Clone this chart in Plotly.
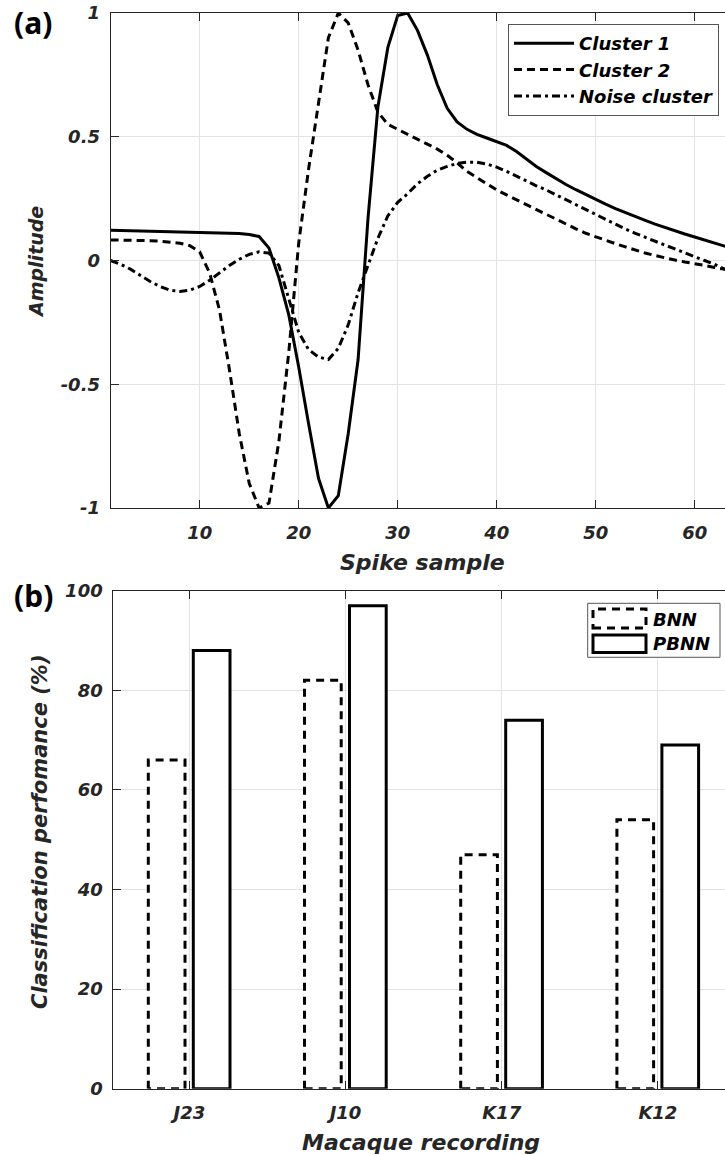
import plotly.graph_objects as go

# ---------------- data ----------------
samples = list(range(1, 65))
cluster1 = [0.122, 0.121, 0.121, 0.120, 0.120, 0.119, 0.118, 0.117, 0.116, 0.115,
            0.114, 0.113, 0.111, 0.109, 0.105, 0.097, 0.050, -0.070, -0.22, -0.43,
            -0.66, -0.88, -1.0, -0.95, -0.70, -0.40, 0.17, 0.62, 0.86, 0.99,
            1.0, 0.93, 0.83, 0.71, 0.615, 0.56, 0.53, 0.51, 0.495, 0.48,
            0.465, 0.44, 0.41, 0.38, 0.355, 0.33, 0.307, 0.286, 0.266, 0.247,
            0.228, 0.21, 0.193, 0.177, 0.162, 0.147, 0.133, 0.12, 0.107, 0.095,
            0.083, 0.071, 0.058, 0.046]
cluster2 = [0.083, 0.083, 0.082, 0.081, 0.080, 0.078, 0.075, 0.070, 0.060, 0.035,
            -0.05, -0.20, -0.44, -0.70, -0.90, -1.0, -0.98, -0.73, -0.37, 0.07,
            0.37, 0.64, 0.90, 1.0, 0.96, 0.85, 0.71, 0.60, 0.55, 0.53,
            0.51, 0.49, 0.47, 0.45, 0.425, 0.395, 0.36, 0.335, 0.31, 0.285,
            0.265, 0.245, 0.225, 0.205, 0.185, 0.165, 0.145, 0.128, 0.11, 0.095,
            0.08, 0.068, 0.055, 0.042, 0.03, 0.02, 0.01, 0.002, -0.006, -0.012,
            -0.02, -0.028, -0.036, -0.042]
noise = [0.0, -0.015, -0.035, -0.06, -0.085, -0.105, -0.12, -0.125, -0.12, -0.105,
         -0.08, -0.05, -0.02, 0.005, 0.025, 0.035, 0.03, -0.02, -0.15, -0.29,
         -0.36, -0.39, -0.40, -0.355, -0.26, -0.13, -0.02, 0.09, 0.18, 0.235,
         0.27, 0.31, 0.34, 0.365, 0.38, 0.392, 0.397, 0.397, 0.39, 0.377,
         0.36, 0.34, 0.32, 0.302, 0.285, 0.265, 0.245, 0.225, 0.205, 0.185,
         0.165, 0.145, 0.127, 0.11, 0.093, 0.077, 0.062, 0.047, 0.03, 0.015,
         0.0, -0.015, -0.035, -0.045]

recordings = ["J23", "J10", "K17", "K12"]
bnn = [66, 82, 47, 54]
pbnn = [88, 97, 74, 69]

amp_ticks = [-1, -0.5, 0, 0.5, 1]
amp_ticktext = ["-1", "-0.5", "0", "0.5", "1"]
sample_ticks = [10, 20, 30, 40, 50, 60]
perf_ticks = [0, 20, 40, 60, 80, 100]

# ---------------- styling ----------------
W, H = 725, 1155
FONT = "DejaVu Sans"
DARK = "#262626"
GRID = "#e3e3e3"
bar_w = 0.235
off_bnn = -0.2625
off_pbnn = 0.0256

def px(x):
    return x / W

def py(y):
    return 1 - y / H

fig = go.Figure()

# ---- panel (a) ----
fig.add_trace(go.Scatter(x=samples, y=cluster1, mode="lines", name="Cluster 1",
                         line=dict(color="black", width=3), xaxis="x", yaxis="y"))
fig.add_trace(go.Scatter(x=samples, y=cluster2, mode="lines", name="Cluster 2",
                         line=dict(color="black", width=3, dash="8px,5px"), xaxis="x", yaxis="y"))
fig.add_trace(go.Scatter(x=samples, y=noise, mode="lines", name="Noise cluster",
                         line=dict(color="black", width=3, dash="8px,4px,3px,4px"), xaxis="x", yaxis="y"))

# ---- panel (b) ----
pos = list(range(1, len(recordings) + 1))
fig.add_trace(go.Bar(x=pos, y=bnn, width=bar_w, offset=off_bnn, name="BNN",
                     marker=dict(color="white", line=dict(width=0)),
                     showlegend=False, xaxis="x2", yaxis="y2"))
outline_x, outline_y = [], []
for p, v in zip(pos, bnn):
    x0 = p + off_bnn
    x1 = x0 + bar_w
    outline_x += [x0, x0, x1, x1, x0, None]
    outline_y += [0, v, v, 0, 0, None]
fig.add_trace(go.Scatter(x=outline_x, y=outline_y, mode="lines", name="BNN",
                         line=dict(color="black", width=3, dash="8px,6px"),
                         showlegend=False, xaxis="x2", yaxis="y2"))
fig.add_trace(go.Bar(x=pos, y=pbnn, width=bar_w, offset=off_pbnn, name="PBNN",
                     marker=dict(color="white", line=dict(color="black", width=3)),
                     showlegend=False, xaxis="x2", yaxis="y2"))

tickfont = dict(family=FONT, size=18, color=DARK, weight="bold", style="italic")
axis_common = dict(showline=True, linecolor=DARK, linewidth=1, ticks="inside",
                   ticklen=8, tickcolor=DARK, tickwidth=1, showgrid=True,
                   gridcolor=GRID, gridwidth=1, zeroline=False, tickfont=tickfont,
                   automargin=False)

fig.update_layout(
    template="none",
    width=W, height=H,
    margin=dict(l=0, r=0, t=0, b=0, pad=0, autoexpand=False),
    paper_bgcolor="white", plot_bgcolor="white",
    font=dict(family=FONT, color=DARK),
    barmode="overlay",
    xaxis=dict(domain=[px(110.6), 1], range=[1, 63.06], tickvals=sample_ticks,
               mirror="ticks", anchor="y", ticklabelstandoff=8, **axis_common),
    yaxis=dict(domain=[py(508), py(13)], range=[-1, 1], tickvals=amp_ticks,
               ticktext=amp_ticktext, anchor="x", ticklabelstandoff=6, **axis_common),
    xaxis2=dict(domain=[px(113.3), 1], range=[0.5134, 4.4296], tickvals=pos,
                ticktext=recordings, mirror="ticks", anchor="y2",
                ticklabelstandoff=8, **axis_common),
    yaxis2=dict(domain=[py(1088.7), py(590.7)], range=[0, 100], tickvals=perf_ticks,
                anchor="x2", ticklabelstandoff=6, **axis_common),
    legend=dict(x=px(719), xanchor="right", y=py(24), yanchor="top",
                bgcolor="white", bordercolor="#555", borderwidth=1,
                font=dict(family=FONT, size=18, color="black", weight="bold", style="italic"),
                itemwidth=60, tracegroupgap=0),
)

title_font = dict(family=FONT, size=22, color=DARK, weight="bold", style="italic")
label_font = dict(family="Noto Sans", size=30, color="black", weight="bold")
annots = [
    dict(text="Spike sample", x=px(422), y=py(562), font=title_font),
    dict(text="Macaque recording", x=px(421), y=py(1142), font=title_font),
    dict(text="Amplitude", x=px(36), y=py(262), textangle=-90,
         font=dict(title_font, size=19)),
    dict(text="Classification perfomance (%)", x=px(40), y=py(832), textangle=-90,
         font=dict(title_font, size=21)),
    dict(text="(a)", x=px(33), y=py(22), font=label_font),
    dict(text="(b)", x=px(33), y=py(595), font=label_font),
    dict(text="BNN", x=px(651), y=py(619.3), xanchor="left",
         font=dict(family=FONT, size=18, color="black", weight="bold", style="italic")),
    dict(text="PBNN", x=px(651), y=py(643.3), xanchor="left",
         font=dict(family=FONT, size=18, color="black", weight="bold", style="italic")),
]
for a in annots:
    a.setdefault("xanchor", "center")
    a.update(xref="paper", yref="paper", yanchor="middle", showarrow=False)
fig.update_layout(annotations=annots)

# manual legend for panel (b)
shapes = [
    dict(type="rect", x0=px(587.7), x1=px(720), y0=py(657.3), y1=py(603.3),
         line=dict(color="#555", width=1), fillcolor="white"),
    dict(type="rect", x0=px(593), x1=px(646), y0=py(628), y1=py(609),
         line=dict(color="black", width=3, dash="8px,6px"), fillcolor="white"),
    dict(type="rect", x0=px(593), x1=px(646), y0=py(652.5), y1=py(635),
         line=dict(color="black", width=3), fillcolor="white"),
]
for s in shapes:
    s.update(xref="paper", yref="paper", layer="above")
fig.update_layout(shapes=shapes)

fig.write_html("out.html", config={"responsive": False, "displayModeBar": False},
               post_script="document.body.style.margin='0';document.body.style.overflow='hidden';")
